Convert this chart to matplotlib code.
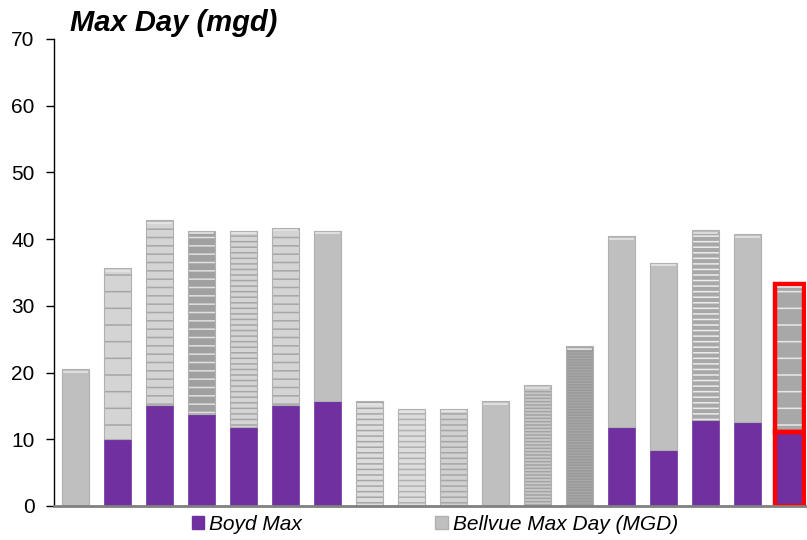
import numpy as np
import matplotlib
matplotlib.use('Agg')
import matplotlib.pyplot as plt
from matplotlib.patches import Patch

plt.rcParams['font.family'] = ['Liberation Sans', 'DejaVu Sans']
plt.rcParams['hatch.linewidth'] = 1.1

# values (mgd)
boyd_max = [0, 10.0, 15.2, 13.8, 11.9, 15.1, 15.8, 0, 0, 0, 0, 0, 0, 11.8, 8.4, 12.9, 12.6, 11.1]
total_max = [20.5, 35.6, 42.8, 41.2, 41.2, 41.7, 41.2, 15.7, 14.5, 14.6, 15.7, 18.1, 23.9, 40.4, 36.4, 41.3, 40.7, 33.2]
bellvue_max = [t - b for t, b in zip(total_max, boyd_max)]

# fill / hatch style of each gray segment
gray_face = ['#bfbfbf', '#d4d4d4', '#d4d4d4', '#a0a0a0', '#d4d4d4', '#d4d4d4', '#bfbfbf',
             '#dcdcdc', '#dcdcdc', '#d0d0d0', '#bfbfbf', '#c8c8c8', '#a8a8a8',
             '#bfbfbf', '#bfbfbf', '#a8a8a8', '#bfbfbf', '#a8a8a8']
gray_hatch = [None, '-', '--', '--', '---', '--', None,
              '---', '---', '---', None, '-----', '------',
              None, None, '---', None, '-']
hatch_col = ['#bfbfbf', '#a6a6a6', '#a6a6a6', '#e0e0e0', '#a6a6a6', '#a6a6a6', '#bfbfbf',
             '#a6a6a6', '#b0b0b0', '#a6a6a6', '#bfbfbf', '#a3a3a3', '#999999',
             '#bfbfbf', '#bfbfbf', '#ececec', '#bfbfbf', '#e8e8e8']

purple = '#7030a0'
x = np.arange(len(total_max))
w = 0.64

fig = plt.figure(figsize=(8.07, 5.40), dpi=100)
ax = fig.add_axes([0.0669, 0.063, 0.932, 0.865])

ax.bar(x, boyd_max, width=w, color=purple, edgecolor=purple, linewidth=0.5)
for i in x:
    ax.bar(i, bellvue_max[i], bottom=boyd_max[i], width=w, color=gray_face[i],
           edgecolor=hatch_col[i], hatch=gray_hatch[i], linewidth=0)
    ax.bar(i, bellvue_max[i], bottom=boyd_max[i], width=w, fill=False,
           edgecolor='#b0b0b0', linewidth=0.8)
    # light rim on top of each gray segment
    ax.plot([i - w / 2 + 0.04, i + w / 2 - 0.04], [total_max[i] - 0.35] * 2,
            color='#e6e6e6', linewidth=1.2)

# highlighted last bar
last = len(total_max) - 1
ax.bar(last, boyd_max[last], width=w + 0.04, fill=False, edgecolor='red', linewidth=3.2)
ax.bar(last, bellvue_max[last], bottom=boyd_max[last], width=w + 0.04, fill=False,
       edgecolor='red', linewidth=3.2)

ax.set_ylim(0, 70)
ax.set_xlim(-0.512, 17.39)
ax.set_yticks(range(0, 71, 10))
ax.set_xticks([])
ax.tick_params(axis='y', labelsize=15, length=6, width=1, direction='out', pad=8)
for s in ['top', 'right']:
    ax.spines[s].set_visible(False)
ax.spines['left'].set_linewidth(1)
ax.spines['bottom'].set_color('#808080')
ax.spines['bottom'].set_linewidth(2)

fig.text(0.087, 0.958, 'Max Day (mgd)', fontsize=21, fontweight='bold', fontstyle='italic',
         va='center', ha='left')

handles = [Patch(facecolor=purple, edgecolor=purple),
           Patch(facecolor='#bfbfbf', edgecolor='#b0b0b0')]
leg = fig.legend(handles, ['Boyd Max', 'Bellvue Max Day (MGD)'], loc='center',
                 bbox_to_anchor=(0.539, 0.029), ncol=2, frameon=False,
                 prop={'size': 15, 'style': 'italic'}, handlelength=0.58, handleheight=0.58,
                 handletextpad=0.25, columnspacing=6.4)

fig.savefig('out.png', dpi=100)
